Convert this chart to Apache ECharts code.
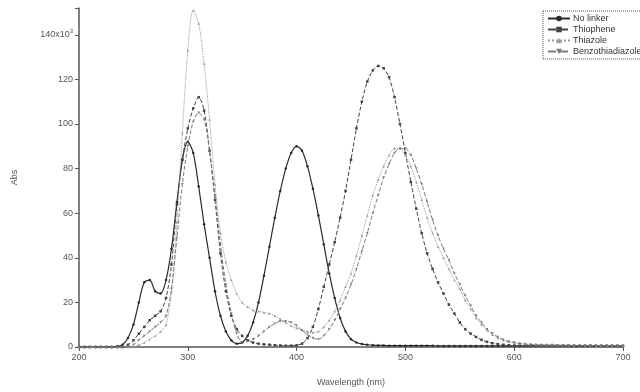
<!DOCTYPE html>
<html>
<head>
<meta charset="utf-8">
<script src="https://cdn.jsdelivr.net/npm/echarts@6/dist/echarts.min.js"></script>
<style>html,body{margin:0;padding:0;background:#fff;}#c{width:640px;height:392px;}</style>
</head>
<body>
<div id="c"></div>
<script>
// Wavelength (nm)
var wavelengths = [
200,205,210,215,220,225,230,235,240,245,
250,255,260,265,270,275,280,285,290,295,
300,305,310,315,320,325,330,335,340,345,
350,355,360,365,370,375,380,385,390,395,
400,405,410,415,420,425,430,435,440,445,
450,455,460,465,470,475,480,485,490,495,
500,505,510,515,520,525,530,535,540,545,
550,555,560,565,570,575,580,585,590,595,
600,605,610,615,620,625,630,635,640,645,
650,655,660,665,670,675,680,685,690,695,
700];
var seriesNames = ["No linker", "Thiophene", "Thiazole", "Benzothiadiazole"];
var noLinker = [
0,0,0,0,0,0,0,0.3,1,4,
10,20,29,30,25,24,30,44,65,84,
92,87,72,55,40,25,14,7,3,1.5,
2,5,11,20,32,45,58,70,80,87,
90,88,81,71,59,46,33,22,13,7,
3.5,2,1.3,1,0.8,0.7,0.7,0.6,0.6,0.6,
0.6,0.6,0.6,0.6,0.6,0.6,0.5,0.5,0.5,0.5,
0.5,0.5,0.5,0.5,0.5,0.5,0.5,0.5,0.5,0.5,
0.5,0.5,0.5,0.5,0.5,0.5,0.5,0.5,0.5,0.5,
0.4,0.4,0.4,0.4,0.4,0.4,0.4,0.4,0.4,0.4,
0.4];
var thiophene = [
0,0,0,0,0,0,0,0,0,1,
3,6,9,12,14,16,22,37,64,84,
98,107,112,106,88,66,42,25,14,8,
5,3,2,1.5,1.2,1,0.8,0.7,0.6,0.6,
0.8,1.5,4,9,17,27,37,47,58,70,
84,98,110,119,124,126,125,121,112,100,
87,74,62,51,42,35,29,24,19,15,
11,8,6,4.5,3.2,2.3,1.7,1.3,1,0.8,
0.7,0.7,0.6,0.6,0.6,0.6,0.5,0.5,0.5,0.5,
0.5,0.5,0.5,0.5,0.5,0.5,0.5,0.5,0.5,0.5,
0.5];
var thiazole = [
0,0,0,0,0,0,0,0,0,0,
0,1,2,3.5,5,7,10,25,56,96,
133,151,145,127,102,73,51,38,30,24,
20,18,16.5,16,15.5,15,14,12.5,11,9.5,
8.5,7.5,7,6.5,7,9,12,16,21,27,
33,41,50,59,68,75,81,86,89,89,
86,81,74,66,58,51,45,40,35,30,
26,21,17,13,10,7.5,5.5,4,3,2.3,
1.8,1.5,1.3,1.1,1,0.9,0.9,0.8,0.8,0.8,
0.7,0.7,0.7,0.7,0.6,0.6,0.6,0.6,0.6,0.6,
0.5];
var benzothiadiazole = [
0,0,0,0,0,0,0,0,0,0,
1,3,5,7,9,11,14,26,49,73,
90,101,105,102,88,68,46,28,15,6,
2,2.5,3.5,5,7,9,10.5,11.5,11.6,11,
9.5,7.5,5.5,4,3.5,5,8,12,17,22,
28,35,43,51,60,68,76,82,87,89,
89,86,80,73,65,57,50,44,39,33,
28,23,18.5,14,11,8,6,4.5,3.3,2.5,
2,1.6,1.3,1.1,1,0.9,0.9,0.9,0.8,0.8,
0.8,0.7,0.7,0.7,0.7,0.6,0.6,0.6,0.6,0.6,
0.5];
var xTicks = [200, 300, 400, 500, 600, 700];
var yTicks = [0, 20, 40, 60, 80, 100, 120, 140];

function pairs(vals) {
  return wavelengths.map(function (w, i) { return [w, vals[i]]; });
}
var styles = [
  {color: '#2a2a2a', symbol: 'circle', type: 'solid', width: 1.2, size: 2.5},
  {color: '#444444', symbol: 'rect', type: 'dashed', width: 1, size: 2.5},
  {color: '#9a9a9a', symbol: 'triangle', type: 'dotted', width: 1, size: 2.5},
  {color: '#7a7a7a', symbol: 'path://M0,0 L10,0 L5,9 Z', type: 'dashed', width: 1, size: 2.5}
];
var dataSets = [noLinker, thiophene, thiazole, benzothiadiazole];
var series = seriesNames.map(function (n, k) {
  var s = styles[k];
  return {
    name: n, type: 'line', data: pairs(dataSets[k]),
    smooth: 0.3, symbol: s.symbol, symbolSize: s.size, showAllSymbol: true,
    lineStyle: {color: s.color, width: s.width, type: s.type},
    itemStyle: {color: s.color},
    emphasis: {disabled: true}
  };
});

var chart = echarts.init(document.getElementById('c'));
chart.setOption({
  animation: false,
  backgroundColor: '#ffffff',
  textStyle: {fontFamily: 'Liberation Sans, Arial, sans-serif'},
  grid: {left: 79, right: 17, top: 8, bottom: 45},
  legend: {
    data: seriesNames,
    orient: 'vertical', left: 543, top: 11,
    itemWidth: 22, itemHeight: 7, itemGap: 2,
    padding: [3, 4, 3, 4],
    borderColor: '#555', borderWidth: 1, borderType: 'dotted',
    itemStyle: {borderWidth: 0},
    textStyle: {fontSize: 9, color: '#333', padding: [0, 0, 0, -2]}
  },
  xAxis: {
    type: 'value', min: 200, max: 700, interval: 100,
    name: 'Wavelength (nm)', nameLocation: 'middle', nameGap: 31,
    nameTextStyle: {fontSize: 9, color: '#555'},
    axisLine: {lineStyle: {color: '#555', width: 1.5}},
    axisTick: {length: 4, lineStyle: {color: '#555'}},
    axisLabel: {fontSize: 9, color: '#555', margin: 6,
      formatter: function (v) { return xTicks.indexOf(v) >= 0 ? String(v) : ''; }},
    splitLine: {show: false}
  },
  yAxis: {
    type: 'value', min: 0, max: 152, interval: 20,
    name: 'Abs', nameLocation: 'middle', nameGap: 60, nameRotate: 90,
    nameTextStyle: {fontSize: 9, color: '#555'},
    axisLine: {show: true, lineStyle: {color: '#555', width: 1.5}},
    axisTick: {show: true, length: 4, lineStyle: {color: '#555'}},
    axisLabel: {fontSize: 9, color: '#555', margin: 6,
      formatter: function (v) {
        if (yTicks.indexOf(v) < 0) return '';
        if (v === 140) return '{a|140x10}{s|3}';
        return String(v);
      },
      rich: {a: {fontSize: 9, color: '#555', lineHeight: 12},
             s: {fontSize: 6, color: '#555', lineHeight: 12, verticalAlign: 'top', padding: [0, 0, 6, 0]}}
    },
    splitLine: {show: false}
  },
  series: series
});
</script>
</body>
</html>
